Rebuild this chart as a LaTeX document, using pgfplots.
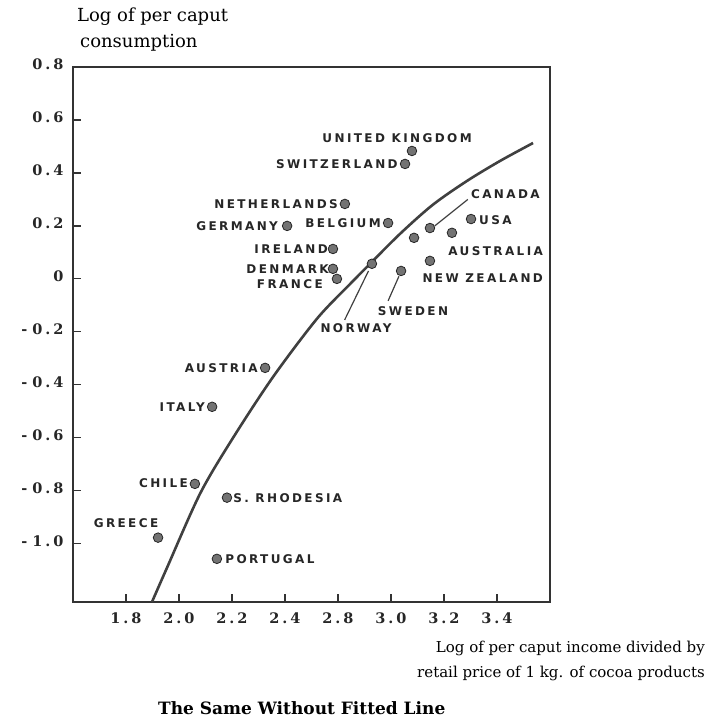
\documentclass[border=0pt]{standalone}
\usepackage{fontspec}
\setmainfont{DejaVu Serif}
\newfontfamily\tickfont{DejaVu Serif Bold}[LetterSpace=20]
\newfontfamily\cfont{DejaVu Sans Bold}[LetterSpace=20]
\usepackage{pgfplots}
\pgfplotsset{compat=1.18}
\begin{document}
\begin{tikzpicture}
\begin{axis}[
  at={(73pt,-602pt)}, anchor=south west,
  scale only axis, width=477pt, height=535pt,
  xmin=1.6, xmax=3.4, ymin=-1.22, ymax=0.8,
  clip=false,
  tick pos=left,
  tick align=inside,
  major tick length=8pt,
  tick style={line width=1.2pt, black!80},
  axis line style={line width=1.8pt, black!80},
  xtick={1.8,2.0,2.2,2.4,2.6,2.8,3.0,3.2},
  xticklabels={1.8,2.0,2.2,2.4,2.8,3.0,3.2,3.4},
  ytick={-1,-0.8,-0.6,-0.4,-0.2,0,0.2,0.4,0.6,0.8},
  yticklabels={-\hspace{5pt}1.0,-\hspace{5pt}0.8,-\hspace{5pt}0.6,-\hspace{5pt}0.4,-\hspace{5pt}0.2,0,0.2,0.4,0.6,0.8},
  ticklabel style={font=\tickfont\fontsize{14.5}{16}\selectfont, black!85},
  xticklabel style={anchor=north, yshift=-7pt},
  yticklabel style={anchor=east, xshift=-6pt, yshift=3pt},
]
% fitted line
\addplot[smooth, line width=2.6pt, black!75] coordinates {
  (1.898,-1.22) (1.955,-1.09) (2.08,-0.81) (2.204,-0.60) (2.355,-0.37)
  (2.521,-0.15) (2.645,-0.02) (2.709,0.045) (2.834,0.17) (2.958,0.28)
  (3.087,0.37) (3.211,0.445) (3.336,0.513)
};
% countries
\addplot[only marks, mark=*, mark size=4.8pt,
  mark options={fill=black!55, draw=black!85, line width=0.8pt}] coordinates {
  (2.879,0.483) (2.853,0.434) (2.626,0.283) (2.408,0.200) (2.789,0.211)
  (2.581,0.113) (2.581,0.038) (2.596,0.000) (2.728,0.057) (2.838,0.030)
  (2.887,0.155) (2.947,0.192) (3.102,0.226) (3.030,0.174) (2.947,0.068)
  (2.325,-0.336) (2.125,-0.483) (2.060,-0.774) (2.181,-0.826) (1.921,-0.977)
  (2.143,-1.057)
};
% leader lines
\draw[line width=1.2pt, black!75] (axis cs:2.625,-0.155) -- (axis cs:2.715,0.03);
\draw[line width=1.2pt, black!75] (axis cs:2.789,-0.083) -- (axis cs:2.83,0.01);
\draw[line width=1.2pt, black!75] (axis cs:2.965,0.20) -- (axis cs:3.09,0.30);
% labels
\begin{scope}[every node/.style={font=\cfont\fontsize{12}{14}\selectfont, inner sep=0pt, black!85}]
\node[anchor=center] at (axis cs:2.823,0.532) {UNITED KINGDOM};
\node[anchor=east] at (axis cs:2.826,0.434) {SWITZERLAND};
\node[anchor=east] at (axis cs:2.600,0.283) {NETHERLANDS};
\node[anchor=east] at (axis cs:2.374,0.200) {GERMANY};
\node[anchor=east] at (axis cs:2.762,0.211) {BELGIUM};
\node[anchor=east] at (axis cs:2.562,0.113) {IRELAND};
\node[anchor=east] at (axis cs:2.566,0.038) {DENMARK};
\node[anchor=east] at (axis cs:2.543,-0.019) {FRANCE};
\node[anchor=center] at (axis cs:2.668,-0.185) {NORWAY};
\node[anchor=center] at (axis cs:2.883,-0.121) {SWEDEN};
\node[anchor=east] at (axis cs:3.362,0.321) {CANADA};
\node[anchor=west] at (axis cs:3.132,0.223) {USA};
\node[anchor=east] at (axis cs:3.374,0.106) {AUSTRALIA};
\node[anchor=east] at (axis cs:3.374,0.004) {NEW ZEALAND};
\node[anchor=east] at (axis cs:2.298,-0.336) {AUSTRIA};
\node[anchor=east] at (axis cs:2.098,-0.483) {ITALY};
\node[anchor=east] at (axis cs:2.034,-0.770) {CHILE};
\node[anchor=west] at (axis cs:2.204,-0.826) {S. RHODESIA};
\node[anchor=center] at (axis cs:1.800,-0.921) {GREECE};
\node[anchor=west] at (axis cs:2.174,-1.057) {PORTUGAL};
\end{scope}
\end{axis}
% axis titles
\node[anchor=base west, inner sep=0pt, font=\fontsize{18}{20}\selectfont] at (77pt,-22pt) {Log of per caput};
\node[anchor=base west, inner sep=0pt, font=\fontsize{18}{20}\selectfont] at (80pt,-48pt) {consumption};
\node[anchor=base east, inner sep=0pt, font=\fontsize{15}{18}\selectfont] at (705pt,-652pt) {Log of per caput income divided by};
\node[anchor=base east, inner sep=0pt, font=\fontsize{15}{18}\selectfont] at (705pt,-677pt) {retail price of 1 kg. of cocoa products};
\node[anchor=base west, inner sep=0pt, font=\bfseries\fontsize{17}{20}\selectfont] at (158pt,-714pt) {The Same Without Fitted Line};
\pgfresetboundingbox
\path[use as bounding box] (0pt,0pt) rectangle (710pt,-725pt);
\end{tikzpicture}
\end{document}
